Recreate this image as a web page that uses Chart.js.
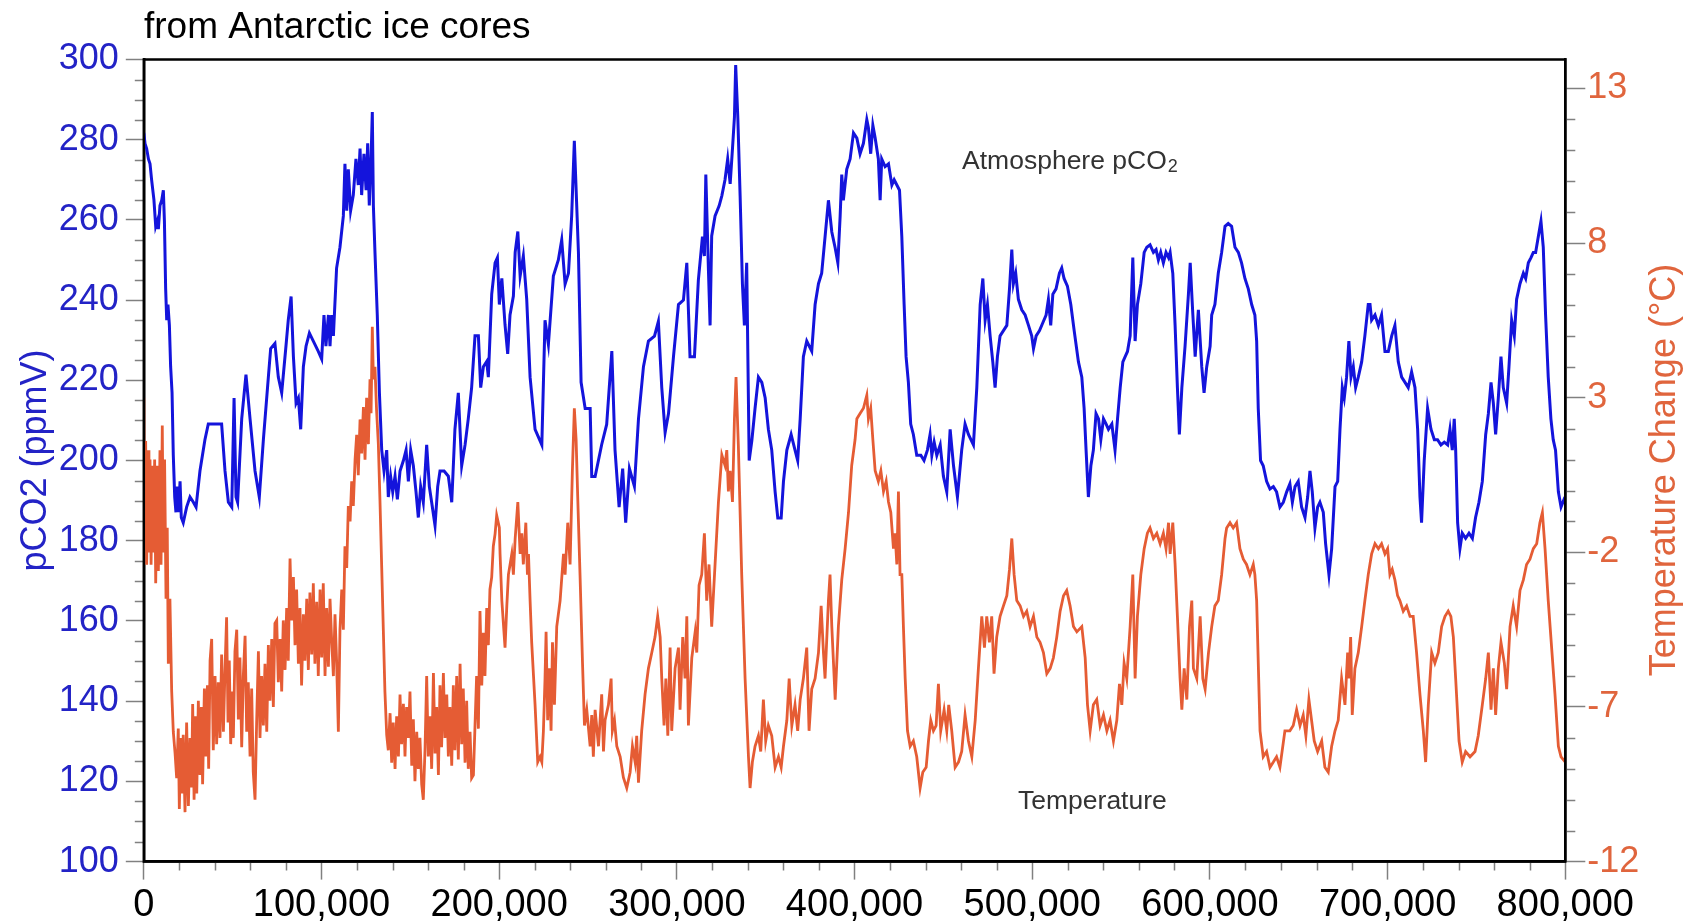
<!DOCTYPE html>
<html>
<head>
<meta charset="utf-8">
<script src="https://cdn.jsdelivr.net/npm/chart.js@4.4.1/dist/chart.umd.min.js"></script>
<style>
  html,body{margin:0;padding:0;background:#fff;}
  #wrap{position:relative;width:1695px;height:923px;}
</style>
</head>
<body>
<div id="wrap"><canvas id="c" width="1695" height="923"></canvas></div>
<script>
// ---------------- DATA (years before present) ----------------
const co2Age = [0,700,1600,2600,3500,4400,5700,6700,7600,8200,9100,10100,11000,11600,12300,12900,13600,14400,15100,15900,16600,17400,18100,18900,19600,20400,21100,22200,24100,26000,27900,29400,31600,34400,36300,40100,43800,45700,47600,49500,50800,51900,52800,55100,57500,59800,62600,65000,67300,70100,71400,73800,75700,77600,80000,81300,82900,84200,85700,87000,88300,89800,91300,93200,95400,98200,100100,101400,102500,103900,104800,105700,106700,108500,110400,112300,113200,114200,115100,116400,117900,119400,120700,121700,122600,123900,125100,126000,126900,127900,128600,129200,130100,131400,132600,133900,135200,136700,137600,138900,140100,141400,142700,144200,146100,147600,148900,150200,151700,153200,154500,155800,157300,159200,160700,162000,163900,165400,166700,169000,171400,173300,175100,177000,178900,180800,182600,184500,186400,188300,189600,191100,193000,193900,195800,197700,199000,200100,201500,203300,204800,206100,208000,209000,210500,211800,213600,215500,217400,220200,224000,225800,227700,230500,233300,235200,237100,239000,240800,242300,244600,246100,248400,251200,252100,254000,257700,260500,263400,265200,267500,269500,271200,273300,276100,278400,281200,284000,287400,289600,291500,293400,295300,298100,300900,303700,305600,307400,309900,312100,314400,315500,316300,317800,318700,319600,321500,323800,325300,327100,328600,330000,331300,332400,333100,334300,335600,336900,338000,339300,340700,342200,344000,345900,347800,349700,351500,353400,355300,356800,358700,360000,361900,364300,366500,368000,369400,371200,373100,375900,377800,379700,381500,383400,385300,387200,389100,390600,391900,392800,393700,395600,397500,399400,401300,403100,405000,406900,407800,409100,410300,411600,413400,414400,415300,417200,419100,421000,422300,423800,425300,426600,427900,429000,430300,431600,433100,435000,437300,439100,441000,442500,443500,444800,446300,448200,450000,451900,453800,455700,457900,460300,462200,464100,466900,468800,470700,472200,473500,474800,476300,477800,479100,480400,481900,483800,485700,487200,488500,489400,490700,492200,494100,496000,497900,499700,500700,502200,504100,505900,507800,509100,510400,511600,513400,515300,516600,517900,519800,521700,523600,526000,527900,529200,530300,531600,533000,534400,535900,537300,538600,540100,541600,542900,544800,546600,548000,549500,551000,552300,553600,555100,556600,557900,559200,561100,563000,564500,566300,568200,569700,571000,572300,573800,575300,576700,577600,579100,580400,581700,582800,584200,586000,587900,588900,590400,591700,593500,595400,596700,598200,600100,601000,602800,604700,606600,608500,610300,612200,614100,616000,617800,619700,621600,623500,625300,626300,627200,628500,630000,631900,633800,635700,637500,639400,641300,643200,645000,646400,647900,649700,651600,653500,655000,656300,657600,659100,660600,661900,663800,665100,667000,668500,670400,671900,673200,674500,675600,676900,678200,679400,680700,682000,683500,685400,687200,689100,690100,691000,692900,694800,696600,698500,700400,702300,704100,706000,707900,709800,711600,713500,715400,716900,718200,719100,720600,722500,724400,726300,728100,730000,731900,733800,735100,736400,737500,738300,739400,740700,742000,743900,745800,747700,749500,751400,753300,755200,756700,758200,759500,760800,762300,763800,765100,767000,768300,769800,771300,772600,774500,776400,777700,779200,780700,782000,783300,784800,786300,787600,788900,790400,791900,793200,794500,796100,797600,799800];
const co2Ppm = [281.7,279,277.8,275.2,274,270,265,258.4,259.7,257.7,263.6,264.9,267.4,259.7,242.8,235,238.9,233.7,223.4,216.9,201.3,190.9,187.1,193.5,187.1,194.8,185.8,184.5,188.4,190.9,189.6,188.4,197.4,205.2,209.1,209.1,209.1,197.4,189.6,188.4,215.6,190.9,189.6,210.4,221.4,210.4,197.4,190.9,205.2,220.8,227.9,229.2,220.8,216.9,228.5,235,240.9,225.9,214.3,215.6,207.8,223.4,228.5,231.8,229.8,227.2,225.3,236.3,228.5,236.3,228.5,236.3,231.1,248,253.2,261,274,262.3,272.6,262.3,266.2,275.2,268.7,277.8,266.2,276.5,267.4,279.1,263.6,275.2,286.9,263.6,251.9,236.3,216.9,202.6,197.4,202.6,190.9,196.1,192.2,196.1,190.3,197.4,200,202.6,194.8,202.6,198.7,192.2,185.8,193.5,189.6,203.9,193.5,189.6,183.8,193.5,197.4,197.4,196.1,189.6,207.8,216.9,198.7,203.9,210.4,218.2,231.1,231.1,218.2,223.4,224.7,220.8,241.5,249.3,250.6,238.9,245.4,233.8,226.6,236.3,241,251.9,257.1,246,251,240.2,220.8,207.8,203.9,235,229,246,250,255,244,246.7,261,279.7,252,219.5,213,213,196,196,204,209,227.3,202.6,188.4,198,184.5,198,193.6,210.4,223.4,229.8,231,234.7,218.2,207,211.7,225.9,238.9,240,249.3,225.9,225.9,245,255.8,251,271.3,247,233.7,256,261,263.5,266,270,275.2,269,277.8,285.6,298.6,285.6,266,244,233.7,249.3,200,205,213,220.8,219.5,215.6,207.8,202.6,192.2,185.7,185.7,194.8,202.6,206.5,202.6,200,210.4,225.9,229.8,227.3,238.9,244.1,246.7,255.8,264.9,257,253,249.3,261,271.3,264.9,272.6,275.2,281.7,280.4,276.5,279.1,285,283,276.5,283.6,280.4,275.2,264.9,275.2,273.3,274,268.7,270,268.7,267.4,255.8,238.9,225.9,219.5,209.1,206.5,201.3,201.3,200,202.6,206.5,201.3,204.6,201.3,203.9,196.1,192.2,207.8,198.7,190.9,202.6,209.1,206.5,203.9,218.2,238.9,245.4,235,238.9,231.1,224.6,218.2,225.9,231.1,232.4,233.7,242.8,252.6,244.1,246.7,240.2,237.6,236.3,233.7,231.1,227.9,231.1,232.4,234.3,236.3,240.2,233.7,241.5,242.8,246.7,248,245.4,243.5,238.9,232.4,224.6,220.8,213,202.6,190.9,198.7,202.6,211.7,210.4,205.2,210.4,209.1,207.8,209.1,202.6,210.4,218.2,224.6,225.9,227.2,231.1,250.6,229.8,238.9,244.1,251.9,253.2,253.8,251.9,252.6,250,251.9,249.3,251.9,250.6,251.9,246.7,233.7,218.2,206.5,218.2,228.5,241.5,249.3,236.3,225.9,237.6,223.4,216.9,223.4,228.5,236.3,238.9,246.7,251.9,258.4,259.1,258.4,253.2,251.9,249.3,245.4,242.8,238.9,236.3,229.8,213,200,198.7,194.8,192.9,193.5,192.2,188.4,189.6,192.2,194.2,189.6,193.5,194.8,188.4,185.8,190.9,197.4,192.2,183.2,188.4,189.6,187.1,179.3,171.5,178,193.5,194.8,207.8,218.2,215.6,220.8,229.8,220.8,223.4,218.2,220.8,224.6,231.1,238.9,238.9,235,236.3,233.7,236.3,227.2,227.2,231.1,233.7,224.6,220.8,219.5,218.2,222.1,218.2,207.8,190.9,184.5,200,213,207.8,205.2,205.2,203.9,204.6,203.9,207.8,202.6,210.4,202.6,184.5,178,181.9,180.6,181.9,180.6,185.8,189.6,194.8,206.5,211.7,219.5,214.3,206.5,215.6,225.9,218.2,214.3,223.4,235,231.1,240.2,244.1,246.7,245.4,249.3,250.6,251.9,251.9,255.8,259.7,253.2,236.3,220.8,210.4,205.2,202.6,192.2,188.4,190.9];

const tempAge = [0,300,1050,1600,2400,2900,3500,4100,4800,5400,6100,6700,7600,8200,9100,9700,10400,11000,11700,12500,13200,13800,14700,15700,16600,17600,18500,19400,20000,20700,21500,22200,23200,24100,25100,26000,26900,27500,28300,29000,29800,30700,31600,32400,33100,34100,34800,35800,36500,37300,38200,39100,40100,41000,41900,42900,43800,44800,45700,46600,47400,48100,48900,49600,50400,51300,52300,53200,54100,55100,56000,57000,57900,58800,59800,60700,61600,62600,63500,64500,65400,66300,67300,68200,69200,70100,71000,72000,72900,73800,74800,75700,76700,77600,78500,79500,80400,81300,82300,83200,84200,85100,86000,87000,87900,88800,89800,90700,91700,92600,93500,94500,95400,96300,97300,98200,99200,100100,101000,102000,102900,103900,104800,105700,106700,107600,108500,109500,110400,111400,112300,113200,114200,115100,116100,117000,117900,118900,119800,120700,121700,122600,123600,124500,125400,126400,127300,127900,128600,129200,130100,131000,132000,132900,133900,134800,135700,136700,137600,138600,139500,140400,141400,142300,143300,144200,145100,146100,147000,147900,148900,149800,150800,151700,152600,153600,154500,155400,156400,157300,158300,159200,160100,161100,162000,163000,163900,164800,165800,166700,167600,168600,169500,170500,171400,172300,173300,174200,175100,176100,177000,178000,178900,179800,180800,181700,182600,183600,184500,185500,186400,187300,188300,189200,190200,191100,192000,193000,193900,194800,195800,196700,197700,198600,200100,200500,201500,203300,204300,205200,207100,208000,209000,210500,211800,212700,213600,215000,215900,216500,217400,218300,220200,221700,223000,224000,224900,225800,226400,227300,228300,229200,230000,231100,232400,234300,236200,237100,238600,239900,241200,242300,243300,244200,245500,246900,248000,249300,251200,252100,253000,254000,255900,257700,258700,259600,261500,263000,263700,264900,266200,268100,269900,271800,273700,275000,276500,277400,278400,280200,282100,284000,285900,287700,289200,290600,291500,292800,293800,294900,296200,297100,299000,300900,301800,303300,304600,305600,306500,308400,310300,311200,312500,314000,315500,316800,318100,319600,321500,323400,325300,327100,328100,329000,330000,331300,332400,333300,334600,336500,338400,340300,341200,342500,344000,345900,347200,348700,350000,351500,353400,355300,357200,358700,360000,361900,363200,364700,366500,368000,369400,371200,373100,374400,375900,377800,379700,381200,382500,383400,385300,386200,387200,389100,390900,392800,394700,396600,398400,400300,401300,403100,405000,406900,407800,409100,410300,411600,413400,414800,416300,417800,419100,420400,421900,422800,423800,424700,425600,426600,427500,428500,429800,431300,433100,435000,436900,438400,440300,441600,442900,444400,445900,447200,448500,450400,451900,453000,454700,456600,458500,460300,462200,464100,466000,467900,469700,471600,473100,474400,475900,477200,478500,480000,481900,483800,485700,487200,488500,489800,491300,493200,495100,496900,498800,500700,502600,504400,506300,508200,510100,511900,513800,515700,517600,519400,521300,523200,525100,527900,529800,531100,532600,534400,536300,538200,540100,542000,543800,545700,547600,549100,550400,551700,553200,555100,556600,557900,559200,561100,563000,564800,566300,568200,570100,572000,573800,575300,576700,577600,579100,580400,581700,583200,584200,585500,587000,588500,589800,590700,592600,594500,596000,597300,599200,601000,602800,604700,606600,608500,609400,611300,613100,615000,616900,618800,620600,622500,624400,625300,626300,628200,630000,631900,633800,635700,637500,639400,642200,645000,646900,648800,650700,652500,654000,655700,657200,658700,660600,662900,664700,666600,668500,670400,672200,674100,676000,677500,678200,679200,680100,681600,683500,685400,687200,689100,691000,692900,694800,696600,698500,700000,701300,702600,704100,705600,706900,708800,710700,712600,714400,716300,718200,720100,721400,722900,724800,726600,728500,730400,732300,734100,735600,737000,738300,740200,742000,743900,746400,749200,751000,753300,755200,756700,758200,759500,760800,762300,763800,765700,767000,768900,770700,772600,774500,776400,778200,780100,782000,783900,785700,787100,788600,790400,792300,794200,796100,797600,800000];
const tempC = [3.0,-1.9,1.6,-2.4,1.3,-2.0,1.0,-2.4,0.8,-2.0,1.0,-3.0,0.8,-2.6,1.3,-2.4,2.1,-2.0,1.0,-3.5,-1.2,-5.6,-3.5,-6.5,-7.8,-8.5,-9.3,-7.7,-10.3,-8.0,-9.8,-7.9,-10.4,-7.5,-10.2,-8.0,-9.6,-6.9,-10.0,-7.3,-9.8,-6.8,-9.2,-7.0,-9.5,-6.4,-8.6,-6.3,-9.0,-5.5,-4.8,-8.4,-6.0,-8.2,-6.2,-8.0,-5.3,-7.8,-5.8,-4.1,-7.5,-5.5,-8.2,-6.5,-8.0,-5.2,-4.5,-7.4,-5.4,-8.3,-6.0,-4.7,-7.8,-6.2,-8.6,-6.4,-9.1,-10.0,-7.5,-5.2,-8.0,-6.0,-7.6,-5.6,-7.8,-5.0,-6.8,-4.8,-7.0,-4.3,-4.2,-6.2,-4.8,-6.5,-4.2,-5.8,-3.8,-5.5,-2.2,-4.2,-2.8,-5.0,-3.2,-5.6,-3.8,-6.3,-4.0,-5.5,-3.5,-5.8,-3.3,-5.3,-3.0,-5.6,-3.6,-6.0,-3.2,-5.4,-3.0,-6.0,-3.8,-5.7,-3.5,-4.8,-6.0,-4.0,-5.5,-7.8,-4.5,-3.2,-4.5,-1.8,-2.5,-0.5,-1.0,0.3,-0.5,1.0,1.8,0.5,2.3,1.2,2.7,1.0,3.0,1.5,3.6,2.5,5.3,3.6,4.0,2.6,1.5,-0.3,-2.5,-4.5,-6.5,-7.9,-8.4,-7.2,-8.8,-7.5,-9.0,-7.3,-8.6,-6.6,-8.2,-6.9,-8.6,-7.0,-8.0,-6.5,-8.9,-7.4,-9.4,-7.8,-9.0,-8.0,-9.5,-10.0,-8.3,-6.0,-8.6,-7.3,-9.0,-5.9,-8.5,-7.0,-9.2,-6.3,-8.3,-5.9,-8.0,-6.6,-8.6,-7.0,-8.9,-6.3,-8.4,-6.0,-8.7,-5.6,-8.2,-6.4,-8.8,-6.8,-9.0,-7.8,-9.3,-9.2,-7.6,-6.0,-7.7,-3.9,-6.3,-4.6,-6.0,-3.8,-5.0,-3.2,-2.8,-1.8,-1.4,-0.8,-1.2,-2.05,-3.56,-5.08,-3.73,-2.72,-2.05,-2.72,-1.55,-0.37,-2.05,-1.38,-2.39,-1.04,-2.72,-2.05,-3.56,-4.91,-6.93,-8.78,-8.61,-8.78,-7.77,-6.08,-4.57,-7.43,-5.75,-7.77,-4.91,-6.93,-4.40,-3.56,-2.05,-2.72,-1.04,-2.39,0.64,2.66,1.65,-0.20,-2.72,-5.58,-7.60,-7.09,-8.27,-7.26,-8.61,-7.09,-8.27,-6.59,-8.44,-7.43,-6.93,-6.08,-7.77,-7.43,-8.27,-8.61,-9.28,-9.62,-9.11,-8.27,-8.78,-7.93,-9.45,-7.77,-6.59,-5.75,-5.24,-4.74,-4.07,-4.74,-6.08,-7.60,-6.08,-7.93,-5.08,-7.77,-5.75,-5.08,-7.09,-4.74,-6.08,-4.07,-7.60,-5.41,-4.57,-5.24,-3.06,-2.72,-1.38,-3.56,-2.39,-4.40,-2.39,-0.37,1.15,0.81,1.31,-0.03,0.64,-0.37,2.32,3.67,1.48,-2.72,-6.08,-8.61,-9.62,-8.78,-8.27,-7.93,-8.44,-6.76,-8.10,-7.60,-7.93,-8.95,-8.61,-8.95,-8.27,-7.43,-6.08,-7.60,-6.93,-7.77,-6.76,-6.08,-5.08,-7.77,-6.42,-6.08,-5.24,-3.73,-5.24,-6.08,-3.56,-2.72,-4.40,-6.76,-4.40,-2.89,-1.88,-0.71,0.81,1.65,2.32,2.49,2.66,3.08,2.32,2.66,1.65,0.64,0.30,0.64,-0.03,0.30,-0.37,-0.71,-1.88,-1.38,-2.39,-0.03,-2.72,-2.72,-4.40,-6.08,-7.77,-8.27,-8.10,-8.61,-9.62,-9.11,-8.95,-8.10,-7.43,-7.77,-7.60,-6.25,-7.77,-7.09,-7.77,-6.93,-7.77,-8.95,-8.78,-8.44,-7.26,-8.10,-8.61,-7.43,-5.75,-4.07,-5.08,-4.07,-4.91,-4.07,-5.92,-4.74,-4.07,-3.73,-3.40,-2.55,-1.55,-2.72,-3.56,-3.73,-4.07,-3.90,-4.40,-4.07,-4.74,-4.91,-5.24,-5.92,-5.75,-5.41,-4.74,-3.90,-3.40,-3.23,-3.73,-4.40,-4.57,-4.40,-5.41,-6.93,-7.77,-6.93,-6.76,-7.60,-7.26,-7.77,-7.43,-8.10,-7.43,-6.25,-6.93,-5.58,-6.08,-4.40,-2.72,-6.08,-4.07,-2.72,-1.88,-1.38,-1.21,-1.55,-1.38,-1.72,-1.38,-1.88,-1.04,-2.05,-1.04,-2.39,-4.07,-6.08,-7.09,-5.75,-6.76,-4.40,-3.56,-5.75,-6.08,-4.07,-6.08,-6.42,-5.24,-4.40,-3.73,-3.56,-2.72,-1.55,-1.21,-1.04,-1.21,-1.04,-1.88,-2.22,-2.39,-2.72,-2.39,-2.72,-3.56,-7.77,-8.61,-8.44,-8.95,-8.78,-8.61,-8.95,-7.77,-7.77,-7.60,-7.09,-7.60,-7.26,-7.93,-6.76,-7.43,-8.10,-8.44,-8.10,-8.95,-9.11,-8.27,-7.77,-7.43,-6.08,-6.93,-5.24,-6.08,-4.74,-7.26,-5.75,-5.24,-4.40,-3.56,-2.72,-2.05,-1.72,-1.88,-1.72,-2.05,-1.88,-2.72,-2.55,-2.89,-3.40,-3.56,-3.90,-3.73,-4.07,-4.07,-5.24,-6.59,-7.77,-8.78,-6.93,-5.24,-5.58,-5.24,-4.40,-4.07,-3.90,-4.07,-4.74,-6.08,-8.10,-8.78,-8.44,-8.61,-8.44,-7.93,-6.93,-6.08,-5.24,-7.09,-5.75,-7.26,-5.75,-4.91,-5.58,-6.42,-4.40,-3.73,-4.40,-3.23,-2.89,-2.39,-2.22,-1.88,-1.72,-1.04,-0.71,-1.88,-3.56,-5.08,-6.59,-8.27,-8.61,-8.78];

const co2TickStep = 20;                       // left axis labels 100..300
const tempTickValues = [-12, -7, -2, 3, 8, 13]; // right axis labels
const xTickStep = 100000;                     // 0 .. 800,000

// ---------------- STYLE ----------------
const BLUE_LINE = '#1414dc';
const BLUE_TEXT = '#2323c6';
const ORANGE_LINE = '#e55c34';
const ORANGE_TEXT = '#e0653d';
const FONT = '"Liberation Sans", Arial, Helvetica, sans-serif';
const TICK_GRAY = '#808080';

const co2Points = co2Age.map((a, i) => ({x: a, y: co2Ppm[i]}));
const tempPoints = tempAge.map((a, i) => ({x: a, y: tempC[i]}));

const decor = {
  id: 'decor',
  afterDraw(chart) {
    const {ctx, chartArea: ca, scales} = chart;
    ctx.save();
    // minor ticks
    ctx.strokeStyle = TICK_GRAY;
    ctx.lineWidth = 1.5;
    ctx.beginPath();
    for (let v = 0; v <= 800000; v += 20000) {
      if (v % xTickStep === 0) continue;
      const px = Math.round(scales.x.getPixelForValue(v)) + 0.5;
      ctx.moveTo(px, ca.bottom); ctx.lineTo(px, ca.bottom + 9);
    }
    for (let v = 100; v <= 300; v += 5) {
      if (v % co2TickStep === 0) continue;
      const py = Math.round(scales.yCO2.getPixelForValue(v)) + 0.5;
      ctx.moveTo(ca.left, py); ctx.lineTo(ca.left - 9, py);
    }
    for (let v = -12; v <= 13; v += 1) {
      if (tempTickValues.includes(v)) continue;
      const py = Math.round(scales.yT.getPixelForValue(v)) + 0.5;
      ctx.moveTo(ca.right, py); ctx.lineTo(ca.right + 10, py);
    }
    ctx.stroke();
    // frame
    ctx.strokeStyle = '#000';
    ctx.lineWidth = 2.5;
    ctx.strokeRect(ca.left, ca.top, ca.right - ca.left, ca.bottom - ca.top);

    // title
    ctx.fillStyle = '#000';
    ctx.font = '37px ' + FONT;
    ctx.textBaseline = 'alphabetic';
    ctx.textAlign = 'left';
    ctx.fillText('from Antarctic ice cores', 144, 38);

    // right axis title (reads bottom-to-top)
    ctx.save();
    ctx.translate(1665, 470);
    ctx.rotate(-Math.PI / 2);
    ctx.fillStyle = ORANGE_TEXT;
    ctx.font = '36px ' + FONT;
    ctx.textAlign = 'center';
    ctx.textBaseline = 'middle';
    ctx.fillText('Temperature Change (°C)', 0, 0);
    ctx.restore();

    // annotations
    ctx.fillStyle = '#333';
    ctx.font = '26.5px ' + FONT;
    ctx.textBaseline = 'middle';
    ctx.textAlign = 'left';
    const ax = scales.x.getPixelForValue(460500);
    const ay = scales.yCO2.getPixelForValue(274.5);
    const main = 'Atmosphere pCO';
    ctx.fillText(main, ax, ay);
    const w = ctx.measureText(main).width;
    ctx.font = '18px ' + FONT;
    ctx.fillText('2', ax + w + 1, ay + 5);
    ctx.font = '26.5px ' + FONT;
    ctx.fillText('Temperature', scales.x.getPixelForValue(492000), scales.yT.getPixelForValue(-10.07));
    ctx.restore();
  }
};

new Chart(document.getElementById('c'), {
  type: 'line',
  data: {
    datasets: [
      {label: 'Atmosphere pCO2', data: co2Points, yAxisID: 'yCO2', borderColor: BLUE_LINE,
       borderWidth: 3, pointRadius: 0, tension: 0, fill: false},
      {label: 'Temperature', data: tempPoints, yAxisID: 'yT', borderColor: ORANGE_LINE,
       borderWidth: 2.8, pointRadius: 0, tension: 0, fill: false}
    ]
  },
  options: {
    responsive: false,
    animation: false,
    devicePixelRatio: 1,
    layout: {padding: {top: 59.5, left: 0, right: 0, bottom: 0}},
    plugins: {legend: {display: false}, tooltip: {enabled: false}, title: {display: false}},
    scales: {
      x: {
        type: 'linear', position: 'bottom', min: 0, max: 800000,
        ticks: {stepSize: xTickStep, autoSkip: false, maxRotation: 0, padding: 3,
                color: '#000', font: {family: FONT, size: 38},
                callback: v => Number(v).toLocaleString('en-US')},
        grid: {drawOnChartArea: false, drawTicks: true, tickLength: 18, tickColor: TICK_GRAY, tickWidth: 1.5},
        border: {display: true, color: '#000', width: 2.5},
        afterFit: s => { s.height = 61.4; }
      },
      yCO2: {
        type: 'linear', position: 'left', min: 100, max: 300,
        ticks: {stepSize: co2TickStep, padding: 7, color: BLUE_TEXT, font: {family: FONT, size: 36}},
        grid: {drawOnChartArea: false, drawTicks: true, tickLength: 18, tickColor: TICK_GRAY, tickWidth: 1.5},
        border: {display: true, color: '#000', width: 2.5},
        title: {display: true, text: 'pCO2 (ppmV)', color: BLUE_TEXT, font: {family: FONT, size: 36},
                padding: {top: 14, bottom: 0}},
        afterFit: s => { s.width = 143.8; }
      },
      yT: {
        type: 'linear', position: 'right', min: -12, max: 13.94,
        afterBuildTicks: s => { s.ticks = tempTickValues.map(v => ({value: v})); },
        ticks: {padding: 2, color: ORANGE_TEXT, font: {family: FONT, size: 36}},
        grid: {drawOnChartArea: false, drawTicks: true, tickLength: 20, tickColor: TICK_GRAY, tickWidth: 1.5},
        border: {display: true, color: '#000', width: 2.5},
        title: {display: false},
        afterFit: s => { s.width = 129.7; }
      }
    }
  },
  plugins: [decor]
});
</script>
</body>
</html>
